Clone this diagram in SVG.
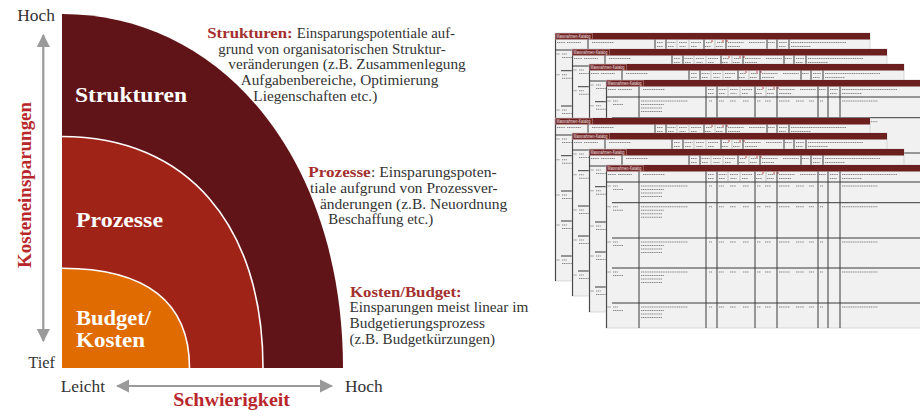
<svg xmlns="http://www.w3.org/2000/svg" width="920" height="417" viewBox="0 0 920 417">
<style>
.ser{font-family:"Liberation Serif","Times New Roman",serif;}
.band{font-family:"Liberation Serif","Times New Roman",serif;font-weight:bold;font-size:21px;fill:#ffffff;}
.ax{font-family:"Liberation Serif","Times New Roman",serif;font-size:17px;fill:#333333;}
.axr{font-family:"Liberation Serif","Times New Roman",serif;font-size:18px;font-weight:bold;fill:#b8272c;}
.desc{font-family:"Liberation Serif","Times New Roman",serif;font-size:15px;fill:#333333;}
.lab{font-family:"Liberation Serif","Times New Roman",serif;font-size:15px;font-weight:bold;fill:#a3302f;}
.arc{fill:none;stroke:#ffffff;stroke-width:1.6;}
.arrow{stroke:#9a9a9a;stroke-width:2.2;fill:none;}
.pg{fill:#f1f1f1;stroke:#c2c2c2;stroke-width:0.6;}
.hb{fill:#6b1f1f;}
.st{font-family:"Liberation Sans",Arial,sans-serif;font-size:5px;fill:#f4e6e6;}
.tl{stroke:#9a9a9a;stroke-width:0.5;fill:none;}
.dk{stroke:#3a3a3a;stroke-width:1;fill:none;}
.d{stroke:#858585;stroke-width:1.1;stroke-dasharray:1.2 0.6;fill:none;}
</style>
<defs>
<marker id="ah" viewBox="0 0 12 12" refX="11" refY="6" markerWidth="6" markerHeight="6" orient="auto-start-reverse" markerUnits="strokeWidth">
<path d="M0,0 L12,6 L0,12 Z" fill="#9a9a9a"/>
</marker>
<g id="row">
<path class="d" d="M1.5,4h3 M7,4h5 M35,4h47 M103,4h3 M113,4h5 M124,4h6 M137,4h6 M151,4h4 M159,4h6 M173,4h11 M190,4h8 M203,4h5 M214,4h3 M236,4h36 M7,7.5h10 M35,7.5h23 M35,11h21 M35,14.5h21"/>
</g>
<g id="sheet">
<rect class="pg" width="315" height="163"/>
<rect class="hb" width="315" height="6.5"/>
<rect x="0.4" y="0.4" width="37" height="5.7" fill="none" stroke="#d6b4b4" stroke-width="0.4"/>
<text class="st" x="1.5" y="5" textLength="34" lengthAdjust="spacingAndGlyphs">Massnahmen-Katalog</text>
<path class="tl" d="M122,6.5V17 M134,6.5V17 M160,6.5V17"/>
<path class="d" d="M2,9.5h8 M12,9.5h14 M37,9.5h22 M102,9.5h6 M112.5,9.5h8 M124,9.5h8 M136,9.5h10 M151,9.5h6 M162,9.5h7 M173,9.5h16 M194,9.5h16 M213,9.5h7 M224,9.5h8 M236,9.5h55 M102,13.5h6 M113,13.5h6 M124.5,13.5h6 M136,13.5h6 M150,13.5h6 M161,13.5h7 M173,13.5h12 M224,13.5h7 M236,13.5h20"/>
<path d="M157,7.2v1.6 M168,7.2v1.6 M172,7.2v1.6" stroke="#d02020" stroke-width="1"/>
<path class="dk" d="M0,17H315 M0.6,6.5V163 M33,6.5V163 M100,6.5V163 M111,6.5V163 M149,6.5V163 M171,6.5V163 M212,6.5V163 M222,6.5V163 M234,6.5V163 M6,37.7H315 M6,73H315 M6,103H315 M6,138H315"/>
<use href="#row" y="17"/>
<use href="#row" y="37.7"/>
<use href="#row" y="73"/>
<use href="#row" y="103"/>
<use href="#row" y="138"/>
</g>
</defs>
<rect width="920" height="417" fill="#ffffff"/>

<g id="node-strukturen">
<path d="M62,368 V14 C225,14 343,163 343,368 Z" fill="#611418"/>
<text class="band" x="75" y="101.5" textLength="112" lengthAdjust="spacingAndGlyphs">Strukturen</text>
</g>
<g id="node-prozesse">
<path d="M62,368 V136.5 C186.6,136.5 263,224.5 263,368 Z" fill="#a02318"/>
<path class="arc" d="M62,136.5 C186.6,136.5 263,224.5 263,368"/>
<text class="band" x="76" y="226.5" textLength="87" lengthAdjust="spacingAndGlyphs">Prozesse</text>
</g>
<g id="node-budget">
<path d="M62,368 V268.3 C146.2,268.3 189.5,302.2 189.5,368 Z" fill="#e06b00"/>
<path class="arc" d="M62,268.3 C146.2,268.3 189.5,302.2 189.5,368"/>
<text class="band" x="76" y="325" textLength="75" lengthAdjust="spacingAndGlyphs">Budget/</text>
<text class="band" x="76" y="346.7" textLength="69" lengthAdjust="spacingAndGlyphs">Kosten</text>
</g>

<g id="axes">
<line class="arrow" x1="43.3" y1="35" x2="43.3" y2="341" marker-start="url(#ah)" marker-end="url(#ah)"/>
<line class="arrow" x1="117" y1="386" x2="332" y2="386" marker-start="url(#ah)" marker-end="url(#ah)"/>
</g>

<g id="axis-labels">
<text class="ax" x="17.3" y="20.7" textLength="37.7" lengthAdjust="spacingAndGlyphs">Hoch</text>
<text class="ax" x="28.3" y="368.3" textLength="26.7" lengthAdjust="spacingAndGlyphs">Tief</text>
<text class="ax" x="60.7" y="391.5" textLength="44.3" lengthAdjust="spacingAndGlyphs">Leicht</text>
<text class="ax" x="345" y="391.5" textLength="37.7" lengthAdjust="spacingAndGlyphs">Hoch</text>
<text class="axr" x="173.3" y="406" textLength="116.7" lengthAdjust="spacingAndGlyphs">Schwierigkeit</text>
<text class="axr" transform="translate(30.5,185) rotate(-90)" x="0" y="0" text-anchor="middle" textLength="166" lengthAdjust="spacingAndGlyphs">Kosteneinsparungen</text>
</g>

<g id="desc-strukturen">
<text class="lab" x="207.3" y="38" textLength="85.4" lengthAdjust="spacingAndGlyphs">Strukturen:</text>
<text class="desc" x="296.7" y="38" textLength="158.3" lengthAdjust="spacingAndGlyphs">Einsparungspotentiale auf-</text>
<text class="desc" x="218.3" y="53.7" textLength="227.4" lengthAdjust="spacingAndGlyphs">grund von organisatorischen Struktur-</text>
<text class="desc" x="228.3" y="69.4" textLength="237.4" lengthAdjust="spacingAndGlyphs">veränderungen (z.B. Zusammenlegung</text>
<text class="desc" x="240.7" y="85.1" textLength="197.6" lengthAdjust="spacingAndGlyphs">Aufgabenbereiche, Optimierung</text>
<text class="desc" x="253.3" y="100.8" textLength="124" lengthAdjust="spacingAndGlyphs">Liegenschaften etc.)</text>
</g>

<g id="desc-prozesse">
<text class="lab" x="308.3" y="177.3" textLength="62.4" lengthAdjust="spacingAndGlyphs">Prozesse</text>
<text class="desc" x="371" y="177.3" textLength="125.7" lengthAdjust="spacingAndGlyphs">: Einsparungspoten-</text>
<text class="desc" x="310" y="193" textLength="187.7" lengthAdjust="spacingAndGlyphs">tiale aufgrund von Prozessver-</text>
<text class="desc" x="320" y="208.7" textLength="187.3" lengthAdjust="spacingAndGlyphs">änderungen (z.B. Neuordnung</text>
<text class="desc" x="328.3" y="224.4" textLength="105" lengthAdjust="spacingAndGlyphs">Beschaffung etc.)</text>
</g>

<g id="desc-budget">
<text class="lab" x="350" y="296.7" textLength="111.7" lengthAdjust="spacingAndGlyphs">Kosten/Budget:</text>
<text class="desc" x="349.5" y="312.4" textLength="178.8" lengthAdjust="spacingAndGlyphs">Einsparungen meist linear im</text>
<text class="desc" x="349.5" y="328.1" textLength="135.5" lengthAdjust="spacingAndGlyphs">Budgetierungsprozess</text>
<text class="desc" x="349.5" y="343.8" textLength="145.5" lengthAdjust="spacingAndGlyphs">(z.B. Budgetkürzungen)</text>
</g>

<g id="sheets">
<use href="#sheet" x="555" y="33"/>
<use href="#sheet" x="572" y="49"/>
<use href="#sheet" x="589" y="64"/>
<use href="#sheet" x="606" y="80"/>
<use href="#sheet" x="555" y="118"/>
<use href="#sheet" x="572" y="133"/>
<use href="#sheet" x="589" y="149"/>
<use href="#sheet" x="606" y="165"/>
</g>
</svg>
